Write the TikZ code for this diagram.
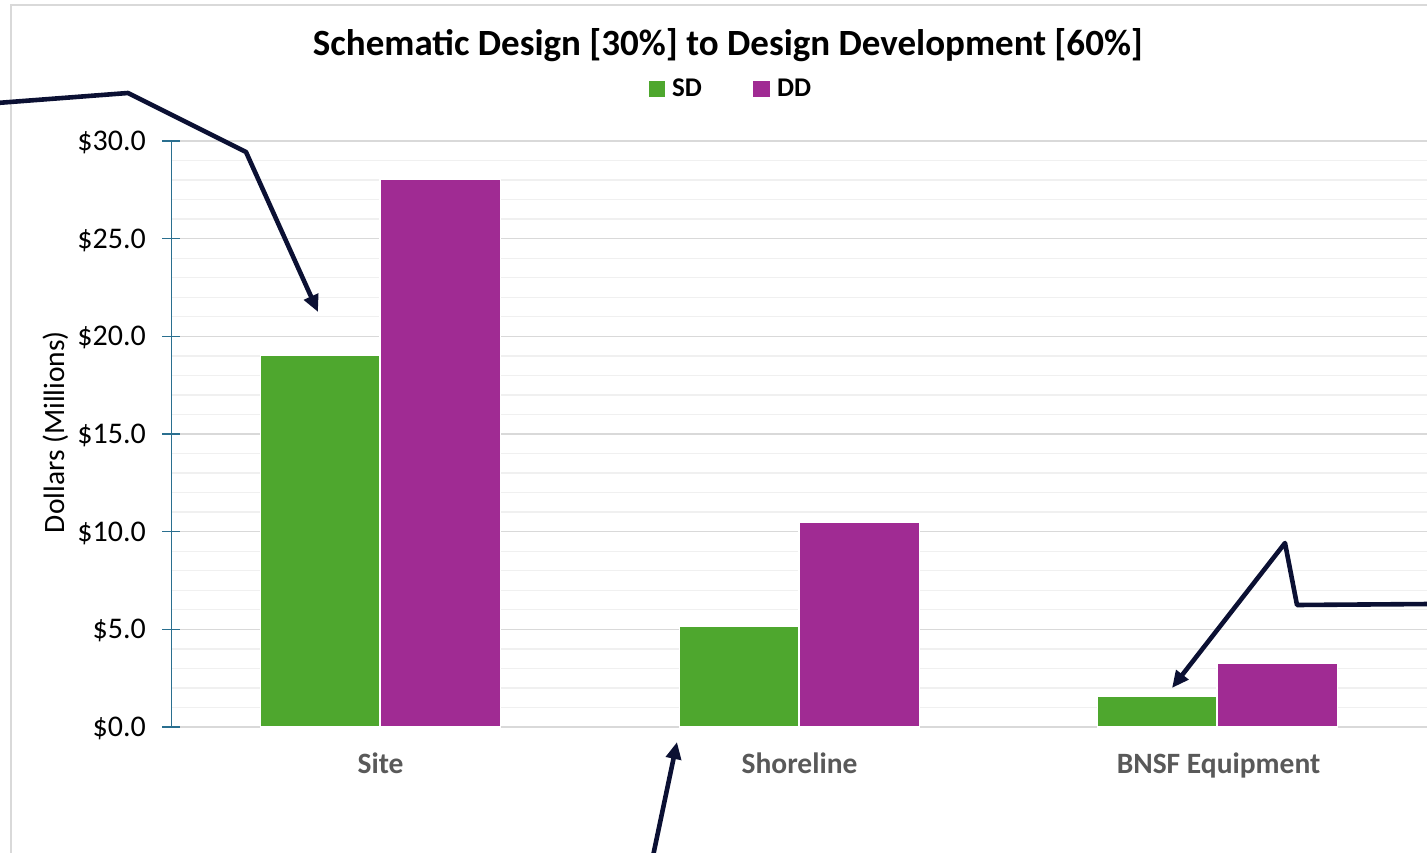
\documentclass[tikz,border=0pt]{standalone}
\usepackage{fontspec}
\setmainfont{Carlito}
\usetikzlibrary{arrows.meta}
\definecolor{sdgreen}{HTML}{4EA72E}
\definecolor{ddpurple}{HTML}{A02B93}
\definecolor{arrowc}{HTML}{0B1033}
\definecolor{axisc}{HTML}{2A6F8F}
\definecolor{majgrid}{HTML}{D9D9D9}
\definecolor{mingrid}{HTML}{F0F0F0}
\definecolor{catgray}{HTML}{595959}
\tikzset{
  sdbar/.style={fill=sdgreen,draw=white,line width=1.4pt},
  ddbar/.style={fill=ddpurple,draw=white,line width=1.4pt},
  callout/.style={draw=arrowc,line width=4.6pt,line join=round,-{Triangle[length=17pt,width=15pt]}},
  ticklabel/.style={anchor=base east,font=\fontsize{30}{32}\selectfont,inner sep=0pt},
  catlabel/.style={anchor=base,font=\fontsize{29.5}{31}\selectfont\bfseries,text=catgray,inner sep=0pt},
  legtext/.style={anchor=base west,font=\fontsize{27}{29}\selectfont\bfseries,inner sep=0pt},
}
\begin{document}
\begin{tikzpicture}[x=1pt,y=-1pt]
\useasboundingbox (0,0) rectangle (1427,853);
% chart border
\draw[majgrid,line width=1.2pt] (11,900) -- (11,5) -- (1500,5);
% minor gridlines
\foreach \v in {1,2,3,4,6,7,8,9,11,12,13,14,16,17,18,19,21,22,23,24,26,27,28,29}
  \draw[mingrid,line width=1.3pt] (171,{727-19.533*\v}) -- (1427,{727-19.533*\v});
% major gridlines
\foreach \v in {5,10,15,20,25,30}
  \draw[majgrid,line width=1.5pt] (171,{727-19.533*\v}) -- (1427,{727-19.533*\v});
\draw[majgrid,line width=1.5pt] (171,727) -- (1427,727);
% y axis
\draw[axisc,line width=1.3pt] (171.5,141.4) -- (171.5,727);
\foreach \v/\t in {0/0.0,5/5.0,10/10.0,15/15.0,20/20.0,25/25.0,30/30.0}{
  \draw[axisc,line width=1.3pt] (162,{727-19.533*\v}) -- (180,{727-19.533*\v});
  \node[ticklabel] (tick\v) at (146,{736.5-19.533*\v}) {\$\t};
}
% bars
\draw[sdbar] (260.5,727) rectangle (380,{727-19.533*19.04});
\draw[ddbar] (380,727) rectangle (500.5,{727-19.533*28.05});
\draw[sdbar] (679.5,727) rectangle (799,{727-19.533*5.17});
\draw[ddbar] (799,727) rectangle (919.5,{727-19.533*10.5});
\draw[sdbar] (1097.5,727) rectangle (1217,{727-19.533*1.56});
\draw[ddbar] (1217,727) rectangle (1337.5,{727-19.533*3.28});
% category labels
\node[catlabel] (cat1) at (380.5,773) {Site};
\node[catlabel] (cat2) at (799.5,773) {Shoreline};
\node[catlabel] (cat3) at (1218.5,773) {BNSF Equipment};
% axis title
\node[anchor=base,rotate=90,font=\fontsize{29.5}{31}\selectfont,inner sep=0pt] (ytitle) at (64,432) {Dollars (Millions)};
% title
\node[anchor=base,font=\fontsize{37}{39}\selectfont\bfseries,inner sep=0pt] (title) at (728,56) {Schematic Design [30\%] to Design Development [60\%]};
% legend
\fill[sdgreen] (649,81) rectangle (665,97);
\node[legtext] (legsd) at (672,97) {SD};
\fill[ddpurple] (753,81) rectangle (770,97);
\node[legtext] (legdd) at (777,97) {DD};
% callout arrows
\coordinate (a1s) at (-3,103);
\coordinate (a1b) at (128,93);
\coordinate (a1c) at (246,152);
\coordinate (a1t) at (318,312);
\coordinate (a2s) at (1430,604);
\coordinate (a2b) at (1297,605);
\coordinate (a2c) at (1285,543);
\coordinate (a2t) at (1172,688);
\coordinate (a3s) at (653,856);
\coordinate (a3t) at (677,742);
\draw[callout] (a1s) -- (a1b) -- (a1c) -- (a1t);
\draw[callout] (a2s) -- (a2b) -- (a2c) -- (a2t);
\draw[callout] (a3s) -- (a3t);
\end{tikzpicture}
\end{document}
